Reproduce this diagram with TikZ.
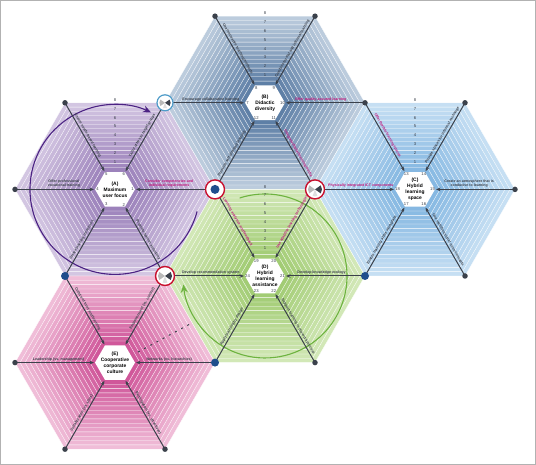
\documentclass[tikz,border=0pt]{standalone}
\usepackage{fontspec}
\setmainfont{Liberation Sans}
\usetikzlibrary{arrows.meta}

\definecolor{spokegray}{HTML}{3B414B}
\definecolor{hotpink}{HTML}{C0187C}
\definecolor{jointblue}{HTML}{1F4E8C}
\definecolor{ringred}{HTML}{C8102E}
\definecolor{ringblue}{HTML}{4F9CC9}
\definecolor{focusdark}{HTML}{9C82BB}
\definecolor{focuslight}{HTML}{D3C6E2}
\definecolor{didacdark}{HTML}{5E7FA6}
\definecolor{didaclight}{HTML}{BCCCDD}
\definecolor{spacedark}{HTML}{86B8E2}
\definecolor{spacelight}{HTML}{C6DFF3}
\definecolor{assistdark}{HTML}{A2CC74}
\definecolor{assistlight}{HTML}{D2E8B7}
\definecolor{culturedark}{HTML}{D0579A}
\definecolor{culturelight}{HTML}{F0BDD8}
\definecolor{cyclepurple}{HTML}{4B2283}
\definecolor{cyclegreen}{HTML}{6DB33F}

\tikzset{
  spoke/.style={draw=spokegray, line width=1pt, -{Stealth[length=4.5pt,width=3.5pt]}},
  lbl/.style={font=\bfseries\fontsize{3.6}{4.1}\selectfont, text=spokegray, align=center, inner sep=1.2pt},
  hot/.style={text=hotpink},
  hubtext/.style={font=\bfseries\fontsize{4.9}{6}\selectfont, align=center, inner sep=0pt},
  idx/.style={font=\fontsize{4.2}{4.5}\selectfont, text=spokegray, inner sep=0pt},
  enddot/.style={circle, fill=spokegray, minimum size=5.5pt, inner sep=0pt},
  bluedot/.style={circle, fill=jointblue, minimum size=8pt, inner sep=0pt},
  joint/.style={circle, draw=ringred, line width=1.4pt, fill=white, minimum size=19pt, inner sep=0pt},
  roundtrip/.style={line width=1.1pt, -{Stealth[length=8pt,width=7pt]}},
  pics/wedges/.style={code={
    \fill[spokegray] (0,0) -- (-35:7) arc[start angle=-35,end angle=35,radius=7] -- cycle;
    \fill[gray!55] (0,0) -- (145:7) arc[start angle=145,end angle=215,radius=7] -- cycle;
    \fill[gray!25] (0,0) -- (250:7) arc[start angle=250,end angle=290,radius=7] -- cycle;
  }},
}

% banded hexagon with white hub, plus its corner coordinates
\newcommand{\hexfield}[3]{%
  \foreach \k in {16,...,1}{%
    \pgfmathtruncatemacro{\pct}{100-(\k-1)*100/15}
    \pgfmathsetmacro{\rad}{20+5*\k}
    \filldraw[fill=#2!\pct!#3, draw=white, line width=.35pt, shift={(#1)}]
      (0:\rad) -- (60:\rad) -- (120:\rad) -- (180:\rad) -- (240:\rad) -- (300:\rad) -- cycle;
  }
  \fill[white, shift={(#1)}] (0:20) -- (60:20) -- (120:20) -- (180:20) -- (240:20) -- (300:20) -- cycle;
  \foreach \a in {0,60,...,300}{
    \coordinate (#1-o\a) at ([shift={(\a:100)}]#1);
    \coordinate (#1-i\a) at ([shift={(\a:21)}]#1);
  }
}

\begin{document}
\begin{tikzpicture}[x=1pt,y=1pt]
\useasboundingbox (0,0) rectangle (536,465);
\draw[gray!60, line width=1pt] (0.5,0.5) rectangle (535.5,464.5);

\coordinate (A) at (115,275.6);
\coordinate (B) at (265,362.2);
\coordinate (C) at (415,275.6);
\coordinate (D) at (265,189);
\coordinate (E) at (115,102.4);

\hexfield{A}{focusdark}{focuslight}
\hexfield{B}{didacdark}{didaclight}
\hexfield{C}{spacedark}{spacelight}
\hexfield{D}{assistdark}{assistlight}
\hexfield{E}{culturedark}{culturelight}

% cycles
\draw[roundtrip, cyclepurple] ([shift={(-15:85)}]A) arc[start angle=-15, end angle=-295, radius=85];
\draw[roundtrip, cyclegreen] ([shift={(108:82)}]D) arc[start angle=108, end angle=-174, radius=82];

% hubs
\node[hubtext] (A-hub) at (A) {(A)\\Maximum\\user focus};
\node[hubtext] (B-hub) at (B) {(B)\\Didactic\\diversity};
\node[hubtext] (C-hub) at (C) {(C)\\Hybrid\\learning\\space};
\node[hubtext] (D-hub) at (D) {(D)\\Hybrid\\learning\\assistance};
\node[hubtext] (E-hub) at (E) {(E)\\Cooperative\\corporate\\culture};

% scales
\foreach \h in {A,B,C,D}
  \foreach \k in {1,...,8}
    \node[idx] (\h-s\k) at ([shift={(0,19+8.8*\k)}]\h) {\k};

\foreach \a/\n in {0/1,300/2,240/3,180/4,120/5,60/6}
  \node[idx] (A-n\n) at ([shift={(\a:17.5)}]A) {\n};
\foreach \a/\n in {180/7,120/8,60/9,0/10,300/11,240/12}
  \node[idx] (B-n\n) at ([shift={(\a:17.5)}]B) {\n};
\foreach \a/\n in {120/13,60/14,0/15,300/16,240/17,180/18}
  \node[idx] (C-n\n) at ([shift={(\a:17.5)}]C) {\n};
\foreach \a/\n in {120/19,60/20,0/21,300/22,240/23,180/24}
  \node[idx] (D-n\n) at ([shift={(\a:17.5)}]D) {\n};

% spokes A
\draw[spoke] (A-o0) -- (A-i0) node[lbl,hot,pos=.58,above,sloped] {Consider competencies and\\individual requirements};
\draw[spoke] (A-o60) -- (A-i60) node[lbl,pos=.5,above,sloped] {Tailor offers to target groups};
\draw[spoke] (A-o120) -- (A-i120) node[lbl,pos=.5,above,sloped] {Ensure needs-based learning};
\draw[spoke] (A-o180) -- (A-i180) node[lbl,pos=.62,above,sloped] {Offer professional\\vocational training};
\draw[spoke] (A-o240) -- (A-i240) node[lbl,pos=.5,above,sloped] {Create learning incentives};
\draw[spoke] (A-o300) -- (A-i300) node[lbl,pos=.5,above,sloped] {Promote learner autonomy};

% spokes B
\draw[spoke] (B-o0) -- (B-i0) node[lbl,hot,pos=.56,above,sloped] {Offer quality-assured learning};
\draw[spoke] (B-o60) -- (B-i60) node[lbl,pos=.5,above,sloped] {Combine formal and informal learning};
\draw[spoke] (B-o120) -- (B-i120) node[lbl,pos=.5,above,sloped] {Use innovative teaching methods};
\draw[spoke] (B-o180) -- (B-i180) node[lbl,pos=.58,above,sloped] {Encourage collaborative learning};
\draw[spoke] (B-o240) -- (B-i240) node[lbl,pos=.5,above,sloped] {Promote self-directed learning};
\draw[spoke] (B-o300) -- (B-i300) node[lbl,hot,pos=.5,above,sloped] {Integrate digital learning media};

% spokes C
\draw[spoke] (C-o0) -- (C-i0) node[lbl,pos=.58,above,sloped] {Create an atmosphere that is\\conducive to learning};
\draw[spoke] (C-o60) -- (C-i60) node[lbl,pos=.5,above,sloped] {Provide spaces for informal exchange};
\draw[spoke] (C-o120) -- (C-i120) node[lbl,hot,pos=.5,above,sloped] {Offer flexible learning spaces};
\draw[spoke] (C-o180) -- (C-i180) node[lbl,hot,pos=.58,above,sloped] {Physically integrated ICT components};
\draw[spoke] (C-o240) -- (C-i240) node[lbl,pos=.5,above,sloped] {Enable learning at the workplace};
\draw[spoke] (C-o300) -- (C-i300) node[lbl,pos=.5,above,sloped] {Use multifunctional room concepts};

% spokes D
\draw[spoke] (D-o0) -- (D-i0) node[lbl,pos=.55,above,sloped] {Develop knowledge ecology};
\draw[spoke] (D-o60) -- (D-i60) node[lbl,hot,pos=.5,above,sloped] {Use adaptive learning technologies};
\draw[spoke] (D-o120) -- (D-i120) node[lbl,hot,pos=.5,above,sloped] {Learning analytics and feedback};
\draw[spoke] (D-o180) -- (D-i180) node[lbl,pos=.58,above,sloped] {Develop recommendation system};
\draw[spoke] (D-o240) -- (D-i240) node[lbl,pos=.5,above,sloped] {Apply learning by design};
\draw[spoke] (D-o300) -- (D-i300) node[lbl,pos=.5,above,sloped] {Support learning in the work process};

% spokes E
\draw[spoke] (E-o0) -- (E-i0) node[lbl,pos=.58,above,sloped] {Networks (vs. hierarchies)};
\draw[spoke] (E-o60) -- (E-i60) node[lbl,pos=.5,above,sloped] {Empowerment (vs. control)};
\draw[spoke] (E-o120) -- (E-i120) node[lbl,pos=.5,above,sloped] {Culture of trust and learning};
\draw[spoke] (E-o180) -- (E-i180) node[lbl,pos=.55,above,sloped] {Leadership (vs. management)};
\draw[spoke] (E-o240) -- (E-i240) node[lbl,pos=.5,above,sloped] {Collaboration (vs. silos)};
\draw[spoke] (E-o300) -- (E-i300) node[lbl,pos=.5,above,sloped] {Participation (vs. directives)};

% dashed link in E
\coordinate (E-d1) at (138,113);
\coordinate (E-d2) at (190,141);
\draw[spokegray, line width=1pt, dash pattern=on 2pt off 5pt] (E-d1) -- (E-d2);

% outer ends
\foreach \p in {A-o120,A-o180,B-o120,B-o60,B-o0,C-o60,C-o0,C-o300,D-o300,E-o180,E-o240,E-o300}
  \node[enddot] (dot-\p) at (\p) {};
\foreach \p in {A-o240,C-o240,D-o240}
  \node[bluedot] (dot-\p) at (\p) {};

% joints
\node[joint, draw=ringblue, line width=1.2pt, minimum size=16pt] (m1) at (A-o60) {};
\pic[scale=.8] at (m1) {wedges};
\node[joint] (m2) at (A-o0) {};
\node[bluedot, minimum size=9pt] (m2c) at (m2) {};
\node[joint] (m3) at (B-o300) {};
\pic at (m3) {wedges};
\node[joint] (m4) at (A-o300) {};
\pic at (m4) {wedges};
\end{tikzpicture}
\end{document}
